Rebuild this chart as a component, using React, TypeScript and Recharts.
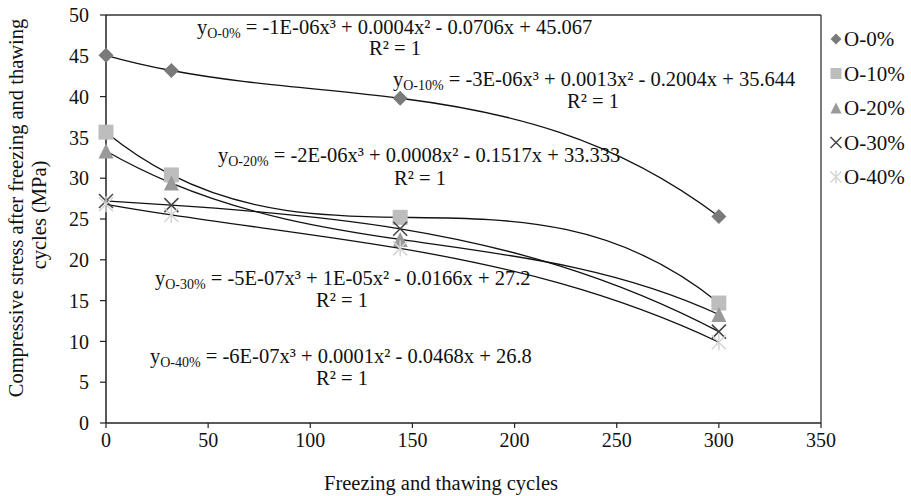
import React from "react";
import { LineChart, Line, XAxis, YAxis, ReferenceLine } from "recharts";

// Freeze–thaw cycle counts and compressive stress (MPa) per mix
const cycles = [0, 32, 144, 300];
const o0 = [45.067, 43.2, 39.8, 25.3];
const o10 = [35.644, 30.4, 25.2, 14.7];
const o20 = [33.333, 29.4, 22.5, 13.3];
const o30 = [27.2, 26.7, 23.8, 11.2];
const o40 = [26.8, 25.5, 21.4, 9.9];

const seriesNames = ["O-0%", "O-10%", "O-20%", "O-30%", "O-40%"];
const seriesKeys = ["o0", "o10", "o20", "o30", "o40"];
const xTicks = [0, 50, 100, 150, 200, 250, 300, 350];
const yTicks = [0, 5, 10, 15, 20, 25, 30, 35, 40, 45, 50];

// Fitted-curve annotation texts
const fitLabels = [
  { sub: "O-0%", eq: " = -1E-06x³ + 0.0004x² - 0.0706x + 45.067" },
  { sub: "O-10%", eq: " = -3E-06x³ + 0.0013x² - 0.2004x + 35.644" },
  { sub: "O-20%", eq: " = -2E-06x³ + 0.0008x² - 0.1517x + 33.333" },
  { sub: "O-30%", eq: " = -5E-07x³ + 1E-05x² - 0.0166x + 27.2" },
  { sub: "O-40%", eq: " = -6E-07x³ + 0.0001x² - 0.0468x + 26.8" },
];
const fitLabelPos = [
  { x: 197, y: 34, rx: 395, ry: 55 },
  { x: 393, y: 86, rx: 593, ry: 108 },
  { x: 218, y: 162, rx: 420, ry: 185 },
  { x: 155, y: 285, rx: 342, ry: 307 },
  { x: 150, y: 363, rx: 342, ry: 385 },
];

const rows = cycles.map((c, i) => ({
  x: c,
  o0: o0[i],
  o10: o10[i],
  o20: o20[i],
  o30: o30[i],
  o40: o40[i],
}));

const FONT = '"Liberation Serif", "Times New Roman", serif';

// Curve factory: draws the single cubic polynomial passing through all the
// series' points (an exact polynomial trend line), one Bézier per interval.
const polyCurve = (context: any) => {
  let pts: [number, number][] = [];
  const P = (x: number) =>
    pts.reduce((s, [xi, yi], i) => {
      let l = 1;
      pts.forEach(([xj], j) => {
        if (j !== i) l *= (x - xj) / (xi - xj);
      });
      return s + yi * l;
    }, 0);
  const D = (x: number) => (P(x + 0.01) - P(x - 0.01)) / 0.02;
  return {
    areaStart() {},
    areaEnd() {},
    lineStart() {
      pts = [];
    },
    point(x: number, y: number) {
      pts.push([+x, +y]);
    },
    lineEnd() {
      if (!pts.length) return;
      context.moveTo(pts[0][0], pts[0][1]);
      for (let k = 0; k < pts.length - 1; k++) {
        const [a, ya] = pts[k];
        const [b, yb] = pts[k + 1];
        const h = (b - a) / 3;
        context.bezierCurveTo(a + h, ya + D(a) * h, b - h, yb - D(b) * h, b, yb);
      }
    },
  };
};

type MarkProps = { cx: number; cy: number; s: number };

const Diamond = ({ cx, cy, s }: MarkProps) => (
  <polygon
    points={`${cx},${cy - s} ${cx + s},${cy} ${cx},${cy + s} ${cx - s},${cy}`}
    fill="#7a7a7a"
  />
);
const Square = ({ cx, cy, s }: MarkProps) => (
  <rect x={cx - s} y={cy - s} width={2 * s} height={2 * s} fill="#bdbdbd" />
);
const Triangle = ({ cx, cy, s }: MarkProps) => (
  <polygon
    points={`${cx},${cy - s} ${cx + s},${cy + s} ${cx - s},${cy + s}`}
    fill="#9a9a9a"
  />
);
const Cross = ({ cx, cy, s }: MarkProps) => (
  <g stroke="#444" strokeWidth={1.5}>
    <line x1={cx - s} y1={cy - s} x2={cx + s} y2={cy + s} />
    <line x1={cx - s} y1={cy + s} x2={cx + s} y2={cy - s} />
  </g>
);
const Star = ({ cx, cy, s }: MarkProps) => (
  <g stroke="#d4d4d4" strokeWidth={1.5}>
    <line x1={cx - s} y1={cy - s} x2={cx + s} y2={cy + s} />
    <line x1={cx - s} y1={cy + s} x2={cx + s} y2={cy - s} />
    <line x1={cx} y1={cy - s - 1} x2={cx} y2={cy + s + 1} />
  </g>
);

const markers = [Diamond, Square, Triangle, Cross, Star];
const markerSize = [7.5, 7.5, 7.5, 7, 7];

export default function App() {
  return (
    <div style={{ position: "absolute", left: 0, top: 0, width: 911, height: 496, background: "#fff" }}>
      <LineChart
        width={911}
        height={496}
        data={rows}
        margin={{ top: 15, right: 90, bottom: 43, left: 46 }}
      >
        <XAxis
          dataKey="x"
          type="number"
          domain={[0, 350]}
          ticks={xTicks}
          interval={0}
          height={30}
          tickSize={5}
          tickMargin={5}
          axisLine={{ stroke: "#222", strokeWidth: 1.5 }}
          tickLine={{ stroke: "#222", strokeWidth: 1.2 }}
          tick={{ fill: "#111", fontSize: 20, fontFamily: FONT }}
        />
        <YAxis
          type="number"
          domain={[0, 50]}
          ticks={yTicks}
          interval={0}
          width={60}
          tickSize={6}
          tickMargin={11}
          axisLine={{ stroke: "#222", strokeWidth: 1.5 }}
          tickLine={{ stroke: "#222", strokeWidth: 1.2 }}
          tick={{ fill: "#111", fontSize: 20, fontFamily: FONT }}
        />
        <ReferenceLine y={50} stroke="#333" strokeWidth={1.3} />
        <ReferenceLine x={350} stroke="#333" strokeWidth={1.3} />
        {seriesKeys.map((k, si) => {
          const Mark = markers[si];
          return (
            <Line
              key={"m" + k}
              dataKey={k}
              stroke="none"
              isAnimationActive={false}
              legendType="none"
              dot={(p: any) => (
                <Mark key={`${k}-${p.index}`} cx={p.cx} cy={p.cy} s={markerSize[si]} />
              )}
              activeDot={false}
            />
          );
        })}
        {seriesKeys.map((k) => (
          <Line
            key={"c" + k}
            dataKey={k}
            type={polyCurve as any}
            stroke="#111"
            strokeWidth={1.3}
            dot={false}
            activeDot={false}
            isAnimationActive={false}
          />
        ))}
      </LineChart>
      <svg
        width={911}
        height={496}
        style={{ position: "absolute", left: 0, top: 0, pointerEvents: "none" }}
        fontFamily={FONT}
      >
        {fitLabels.map((f, i) => (
          <g key={f.sub} fill="#111" fontSize={20.5}>
            <text x={fitLabelPos[i].x} y={fitLabelPos[i].y}>
              y
              <tspan fontSize={14} dy={4}>
                {f.sub}
              </tspan>
              <tspan dy={-4}>{f.eq}</tspan>
            </text>
            <text x={fitLabelPos[i].rx} y={fitLabelPos[i].ry} textAnchor="middle">
              R² = 1
            </text>
          </g>
        ))}
        <text
          transform="translate(23,208) rotate(-90)"
          textAnchor="middle"
          fontSize={20.5}
          fill="#111"
        >
          Compressive stress after freezing and thawing
        </text>
        <text
          transform="translate(46,215) rotate(-90)"
          textAnchor="middle"
          fontSize={20.5}
          fill="#111"
        >
          cycles (MPa)
        </text>
        <text x={441} y={490} textAnchor="middle" fontSize={20.5} fill="#111">
          Freezing and thawing cycles
        </text>
        {seriesNames.map((n, i) => {
          const Mark = markers[i];
          const cy = 39 + i * 34.5;
          return (
            <g key={n}>
              <Mark cx={836} cy={cy} s={5.5} />
              <text x={844} y={cy + 7} fontSize={21} fill="#111">
                {n}
              </text>
            </g>
          );
        })}
      </svg>
    </div>
  );
}
